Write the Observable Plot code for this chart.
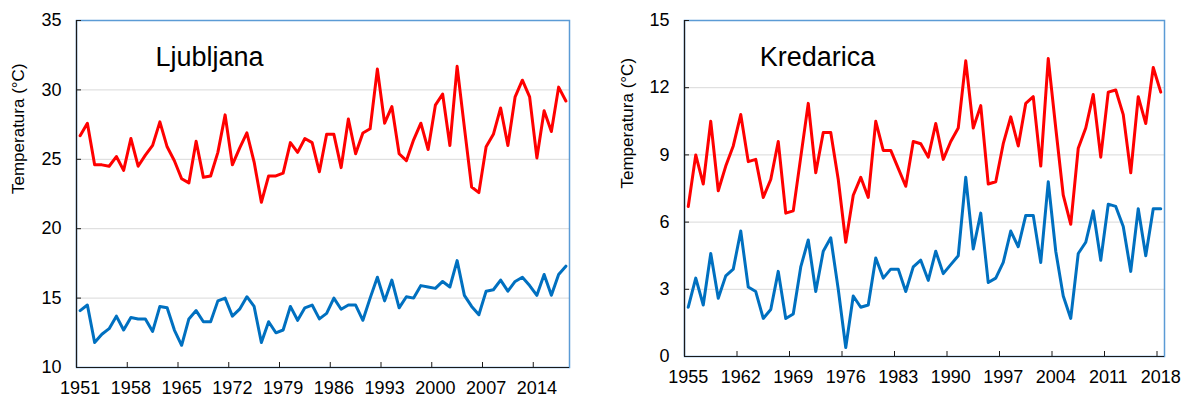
<!DOCTYPE html>
<html><head><meta charset="utf-8">
<script src="https://cdn.jsdelivr.net/npm/d3@7"></script>
<script src="https://cdn.jsdelivr.net/npm/@observablehq/plot@0.6"></script>
<style>
body{margin:0;background:#fff;width:1184px;height:396px;overflow:hidden;position:relative;}
#left{position:absolute;left:0;top:0}
#right{position:absolute;left:592px;top:0}
</style></head><body>
<div id="left"></div><div id="right"></div>
<script>
// Ljubljana, 1951–2018
const ljFirstYear = 1951;
const ljMax = [26.7,27.6,24.6,24.6,24.5,25.2,24.2,26.5,24.5,25.3,
  26.0,27.7,25.9,24.9,23.6,23.3,26.3,23.7,23.8,25.5,
  28.2,24.6,25.8,26.9,24.8,21.9,23.8,23.8,24.0,26.2,
  25.5,26.5,26.2,24.1,26.8,26.8,24.4,27.9,25.4,26.9,
  27.2,31.5,27.6,28.8,25.4,24.9,26.4,27.6,25.7,28.9,
  29.7,26.0,31.7,27.3,23.0,22.6,25.9,26.8,28.7,26.0,
  29.5,30.7,29.5,25.1,28.5,27.0,30.2,29.2];
const ljMin = [14.1,14.5,11.8,12.4,12.8,13.7,12.7,13.6,13.5,13.5,
  12.6,14.4,14.3,12.7,11.6,13.5,14.1,13.3,13.3,14.8,
  15.0,13.7,14.2,15.1,14.4,11.8,13.3,12.5,12.7,14.4,
  13.4,14.3,14.5,13.5,13.9,15.0,14.2,14.5,14.5,13.4,
  15.0,16.5,14.8,16.3,14.3,15.1,15.0,15.9,15.8,15.7,
  16.2,15.8,17.7,15.2,14.4,13.8,15.5,15.6,16.3,15.5,
  16.2,16.5,15.9,15.2,16.7,15.2,16.7,17.3];
// Kredarica, 1955–2018
const krFirstYear = 1955;
const krMax = [6.7,9.0,7.7,10.5,7.4,8.5,9.4,10.8,8.7,8.8,
  7.1,7.9,9.6,6.4,6.5,8.9,11.3,8.2,10.0,10.0,
  7.9,5.1,7.2,8.0,7.1,10.5,9.2,9.2,8.4,7.6,
  9.6,9.5,8.9,10.4,8.8,9.6,10.2,13.2,10.2,11.2,
  7.7,7.8,9.5,10.7,9.4,11.3,11.6,8.5,13.3,10.2,
  7.2,5.9,9.3,10.2,11.7,8.9,11.8,11.9,10.8,8.2,
  11.6,10.4,12.9,11.8];
const krMin = [2.2,3.5,2.3,4.6,2.6,3.6,3.9,5.6,3.1,2.9,
  1.7,2.1,3.8,1.7,1.9,4.0,5.2,2.9,4.7,5.3,
  3.0,0.4,2.7,2.2,2.3,4.4,3.5,3.9,3.9,2.9,
  4.0,4.3,3.4,4.7,3.7,4.1,4.5,8.0,4.8,6.4,
  3.3,3.5,4.2,5.6,4.9,6.3,6.3,4.2,7.8,4.7,
  2.7,1.7,4.6,5.1,6.5,4.3,6.8,6.7,5.8,3.8,
  6.6,4.5,6.6,6.6];

const ljYTicks = [10,15,20,25,30,35];
const krYTicks = [0,3,6,9,12,15];
const ljXLabels = [1951,1958,1965,1972,1979,1986,1993,2000,2007,2014];
const krXLabels = [1955,1962,1969,1976,1983,1990,1997,2004,2011,2018];
const yTitle = "Temperatura (°C)";

const FONT = "'Liberation Sans', Arial, Helvetica, sans-serif";

function panel({title, first, maxs, mins, yTicks, xLabels, margins, titleDx, titleDy, yTitleDx}) {
  const data = maxs.map((v, i) => ({year: first + i, max: v, min: mins[i]}));
  const last = first + maxs.length - 1;
  const x0 = first - 0.5, x1 = last + 0.5;
  const y0 = yTicks[0], y1 = yTicks[yTicks.length - 1];
  const tickBounds = xLabels.map(d => d - 0.5);
  return Plot.plot({
    width: 592, height: 396,
    ...margins,
    x: {domain: [x0, x1], label: null},
    y: {domain: [y0, y1], label: null},
    style: {fontFamily: FONT, fontSize: "18px", color: "#000", background: "#fff", overflow: "visible"},
    marks: [
      Plot.gridY(yTicks.slice(1, -1), {stroke: "#d9d9d9", strokeOpacity: 1, strokeWidth: 1}),
      Plot.frame({stroke: "#5b9bd5", strokeWidth: 1.5}),
      Plot.ruleX([x0], {stroke: "#1a1a1a", strokeWidth: 1.2}),
      Plot.ruleY([y0], {stroke: "#1a1a1a", strokeWidth: 1.2}),
      Plot.axisY(yTicks, {tickSize: 0, tickPadding: 15, fontSize: 18, label: null}),
      Plot.axisY(yTicks, {tickSize: -5, tickFormat: () => "", stroke: "#1a1a1a", label: null}),
      Plot.axisX(xLabels, {tickSize: 0, tickPadding: 14, tickFormat: d => String(d), fontSize: 18, label: null}),
      Plot.axisX(tickBounds, {tickSize: -5, tickFormat: () => "", stroke: "#1a1a1a", label: null}),
      Plot.line(data, {x: "year", y: "max", stroke: "#ff0000", strokeWidth: 3, strokeLinejoin: "round", strokeLinecap: "round"}),
      Plot.line(data, {x: "year", y: "min", stroke: "#0070c0", strokeWidth: 3, strokeLinejoin: "round", strokeLinecap: "round"}),
      Plot.text([title], {frameAnchor: "top-left", dx: titleDx, dy: titleDy, textAnchor: "middle", fontSize: 27, fill: "#000"}),
      Plot.text([yTitle], {frameAnchor: "left", rotate: -90, dx: yTitleDx, fontSize: 17, fill: "#000"})
    ]
  });
}

document.getElementById("left").append(panel({
  title: "Ljubljana", first: ljFirstYear, maxs: ljMax, mins: ljMin,
  yTicks: ljYTicks, xLabels: ljXLabels,
  margins: {marginLeft: 76, marginRight: 23, marginTop: 20, marginBottom: 29},
  titleDx: 133, titleDy: 26, yTitleDx: -58
}));
document.getElementById("right").append(panel({
  title: "Kredarica", first: krFirstYear, maxs: krMax, mins: krMin,
  yTicks: krYTicks, xLabels: krXLabels,
  margins: {marginLeft: 92, marginRight: 20, marginTop: 20, marginBottom: 40},
  titleDx: 133, titleDy: 26, yTitleDx: -57
}));
</script>
</body></html>
